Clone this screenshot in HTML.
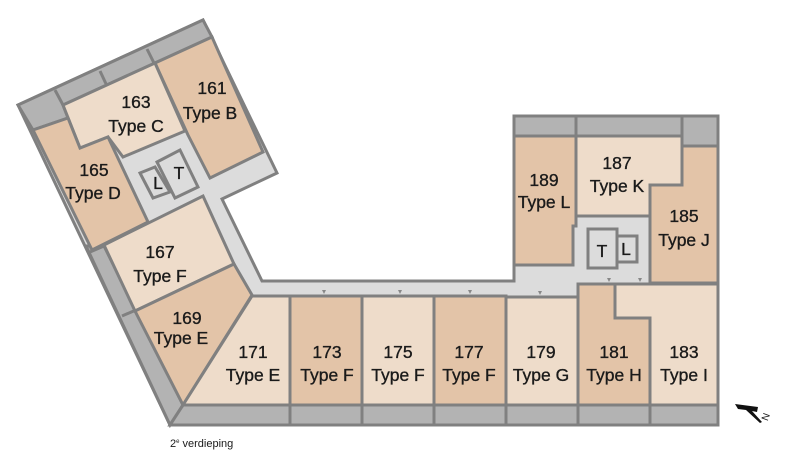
<!DOCTYPE html>
<html><head><meta charset="utf-8"><style>
html,body{margin:0;padding:0;background:#fff;width:800px;height:465px;overflow:hidden}
svg{display:block}
text{font-family:"Liberation Sans",sans-serif;font-size:17.5px;fill:#1a1a1a;stroke:#1a1a1a;stroke-width:0.35;text-anchor:middle}
</style></head><body>
<svg width="800" height="465" viewBox="0 0 800 465">
<g stroke="#808080" stroke-width="3" stroke-linejoin="miter">
<polygon fill="#dcdcdc" points="18,105 203,20 277,173 222,199 262,281 514,281 514,116 718,116 718,425 170,425"/>
<polygon fill="#b3b3b3" points="18,105 203,20 212,37 63,105 68,118 33,130"/>
<polygon fill="#b3b3b3" points="86,246 104,246 183,405 170,425"/>
<polygon fill="#b3b3b3" points="183,405 718,405 718,425 170,425"/>
<polygon fill="#b3b3b3" points="514,116 718,116 718,146 682,146 682,136 514,136"/>
<polygon fill="#e3c4a8" points="155,63 212,37 263,152 210,178 188,135"/>
<polygon fill="#eedcca" points="63,105 155,63 185,131 123,157 108,137 80,148"/>
<polygon fill="#e3c4a8" points="33,130 68,118 80,148 108,137 148,222 92,250"/>
<polygon fill="#eedcca" points="104,245 203,196 234,264 135,311"/>
<polygon fill="#e3c4a8" points="135,311 234,264 252,295 183,405"/>
<polygon fill="#dcdcdc" points="157,162 180,150 198,187 175,198"/>
<polygon fill="#dcdcdc" points="140,173 155,167 170,192 153,198"/>
<polygon fill="#eedcca" points="252,296 290,296 290,405 183,405"/>
<rect fill="#e3c4a8" x="290" y="296" width="72" height="109"/>
<rect fill="#eedcca" x="362" y="296" width="72" height="109"/>
<rect fill="#e3c4a8" x="434" y="296" width="72" height="109"/>
<rect fill="#eedcca" x="506" y="297" width="72" height="108"/>
<polygon fill="#e3c4a8" points="578,284 615,284 615,318 650,318 650,405 578,405"/>
<polygon fill="#eedcca" points="615,284 718,284 718,405 650,405 650,318 615,318"/>
<polygon fill="#e3c4a8" points="514,136 576,136 576,226 573,226 573,265 514,265"/>
<polygon fill="#eedcca" points="576,136 682,136 682,185 650,185 650,216 576,216"/>
<polygon fill="#e3c4a8" points="682,146 718,146 718,283 650,283 650,185 682,185"/>
<rect fill="#dcdcdc" x="588" y="229" width="29" height="39"/>
<rect fill="#dcdcdc" x="617" y="236" width="20" height="26"/>
<line x1="55" y1="90" x2="63" y2="105"/>
<line x1="100" y1="71" x2="107" y2="86"/>
<line x1="147" y1="49" x2="154" y2="63"/>
<line x1="90" y1="252" x2="104" y2="246"/>
<line x1="122" y1="316" x2="136" y2="310"/>
<line x1="290" y1="405" x2="290" y2="425"/>
<line x1="362" y1="405" x2="362" y2="425"/>
<line x1="434" y1="405" x2="434" y2="425"/>
<line x1="506" y1="405" x2="506" y2="425"/>
<line x1="578" y1="405" x2="578" y2="425"/>
<line x1="650" y1="405" x2="650" y2="425"/>
<line x1="576" y1="116" x2="576" y2="136"/>
<line x1="682" y1="116" x2="682" y2="136"/>
</g>
<g fill="#888">
<polygon points="398,290 402,290 400,294"/><polygon points="468,290 472,290 470,294"/>
<polygon points="322,290 326,290 324,294"/><polygon points="538,291 542,291 540,295"/>
<polygon points="607,278 611,278 609,282"/><polygon points="638,278 642,278 640,282"/>
</g>
<text x="212" y="94">161</text><text x="210" y="119">Type B</text>
<text x="136" y="108">163</text><text x="136" y="132">Type C</text>
<text x="94" y="176">165</text><text x="93" y="199">Type D</text>
<text x="160" y="258">167</text><text x="160" y="282">Type F</text>
<text x="187" y="324">169</text><text x="181" y="344">Type E</text>
<text x="253" y="358">171</text><text x="253" y="381">Type E</text>
<text x="327" y="358">173</text><text x="327" y="381">Type F</text>
<text x="398" y="358">175</text><text x="398" y="381">Type F</text>
<text x="469" y="358">177</text><text x="469" y="381">Type F</text>
<text x="541" y="358">179</text><text x="541" y="381">Type G</text>
<text x="614" y="358">181</text><text x="614" y="381">Type H</text>
<text x="684" y="358">183</text><text x="684" y="381">Type I</text>
<text x="544" y="186">189</text><text x="544" y="208">Type L</text>
<text x="617" y="169">187</text><text x="617" y="192">Type K</text>
<text x="684" y="222">185</text><text x="684" y="246">Type J</text>
<text x="158" y="189">L</text><text x="179" y="179">T</text>
<text x="602" y="257">T</text><text x="626" y="255">L</text>
<text x="170" y="447" style="font-size:11px;text-anchor:start;stroke:none">2<tspan dy="-4" style="font-size:6px">e</tspan><tspan dy="4"> verdieping</tspan></text>
<polygon points="735,404 758,407 757,412 752,411 762,422 760,423 746,410 738,409" fill="#111"/>
<text x="766" y="420" style="font-size:10px;stroke:none" transform="rotate(-70 766 417)">N</text>
</svg>
</body></html>
